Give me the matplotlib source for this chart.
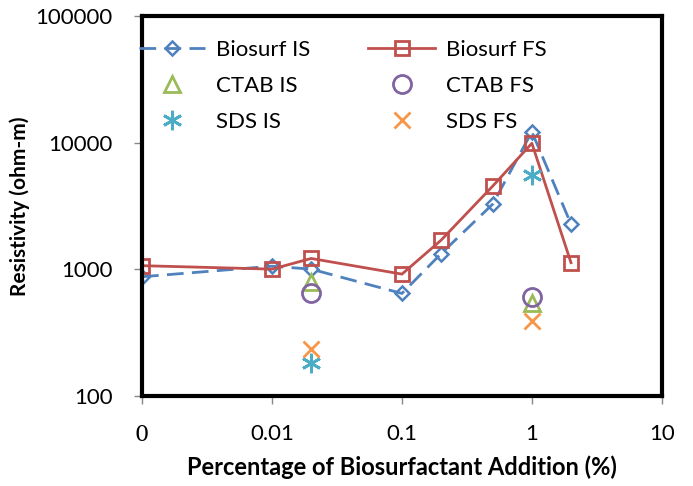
import numpy as np
import matplotlib.pyplot as plt

# x positions (%), 0.001 stands in for the "0" addition on the log axis
x_bio = [0.001, 0.01, 0.02, 0.1, 0.2, 0.5, 1, 2]
bio_is = [875, 1060, 1005, 646, 1330, 3280, 12200, 2280]
bio_fs = [1070, 1005, 1220, 918, 1700, 4550, 9900, 1130]

x_ref = [0.02, 1]
ctab_is = [790, 545]
ctab_fs = [650, 605]
sds_is = [182, 5550]
sds_fs = [235, 395]

xticks = [0.001, 0.01, 0.1, 1, 10]
xticklabels = ['0', '0.01', '0.1', '1', '10']
yticks = [100, 1000, 10000, 100000]

plt.rcParams['font.family'] = ['Lato', 'DejaVu Sans']

fig = plt.figure(figsize=(6.93, 4.86), dpi=100)
ax = fig.add_axes([0.205, 0.185, 0.750, 0.782])

ax.plot(x_bio, bio_is, color='#4F81BD', ls=(0, (6, 3)), lw=2, marker='D', ms=7,
        mfc='none', mec='#4F81BD', mew=1.8, label='Biosurf IS')
ax.plot(x_bio, bio_fs, color='#C0504D', lw=2, marker='s', ms=10,
        mfc='none', mec='#C0504D', mew=2, label='Biosurf FS')
ax.plot(x_ref, ctab_is, ls='none', marker='^', ms=11, mfc='none',
        mec='#9BBB59', mew=2, label='CTAB IS')
ax.plot(x_ref, ctab_fs, ls='none', marker='o', ms=13, mfc='none',
        mec='#8064A2', mew=2, label='CTAB FS')
ax.plot(x_ref, sds_is, ls='none', marker=(6, 2, 0), ms=14,
        mec='#4BACC6', mew=2, label='SDS IS')
ax.plot(x_ref, sds_fs, ls='none', marker='x', ms=12,
        mec='#F79646', mew=2, label='SDS FS')

ax.set_xscale('log')
ax.set_yscale('log')
ax.set_xlim(0.001, 10)
ax.set_ylim(100, 100000)
ax.set_xticks(xticks)
ax.set_xticklabels(xticklabels)
ax.minorticks_off()
ax.set_yticks(yticks)
ax.set_yticklabels([str(v) for v in yticks])
ax.tick_params(axis='both', labelsize=16, length=6, color='#888888', width=1)
ax.tick_params(axis='y', pad=15)
ax.tick_params(axis='x', pad=14)
zero = ax.get_xticklabels()[0]
zero.set_fontfamily('DejaVu Serif')
zero.set_fontsize(16)

for s in ax.spines.values():
    s.set_linewidth(3)

ax.set_ylabel('Resistivity (ohm-m)', fontsize=15, fontweight='bold', labelpad=4)
ax.set_xlabel('Percentage of Biosurfactant Addition (%)', fontsize=17,
              fontweight='bold', labelpad=7)

handles, labels = ax.get_legend_handles_labels()
order = [0, 2, 4, 1, 3, 5]
ax.legend([handles[i] for i in order], [labels[i] for i in order], ncol=2,
          frameon=False, fontsize=16, loc='upper left',
          bbox_to_anchor=(-0.045, 0.99), columnspacing=2.6, handlelength=3,
          handletextpad=0.5, labelspacing=0.72)

fig.savefig('out.png', dpi=100)
